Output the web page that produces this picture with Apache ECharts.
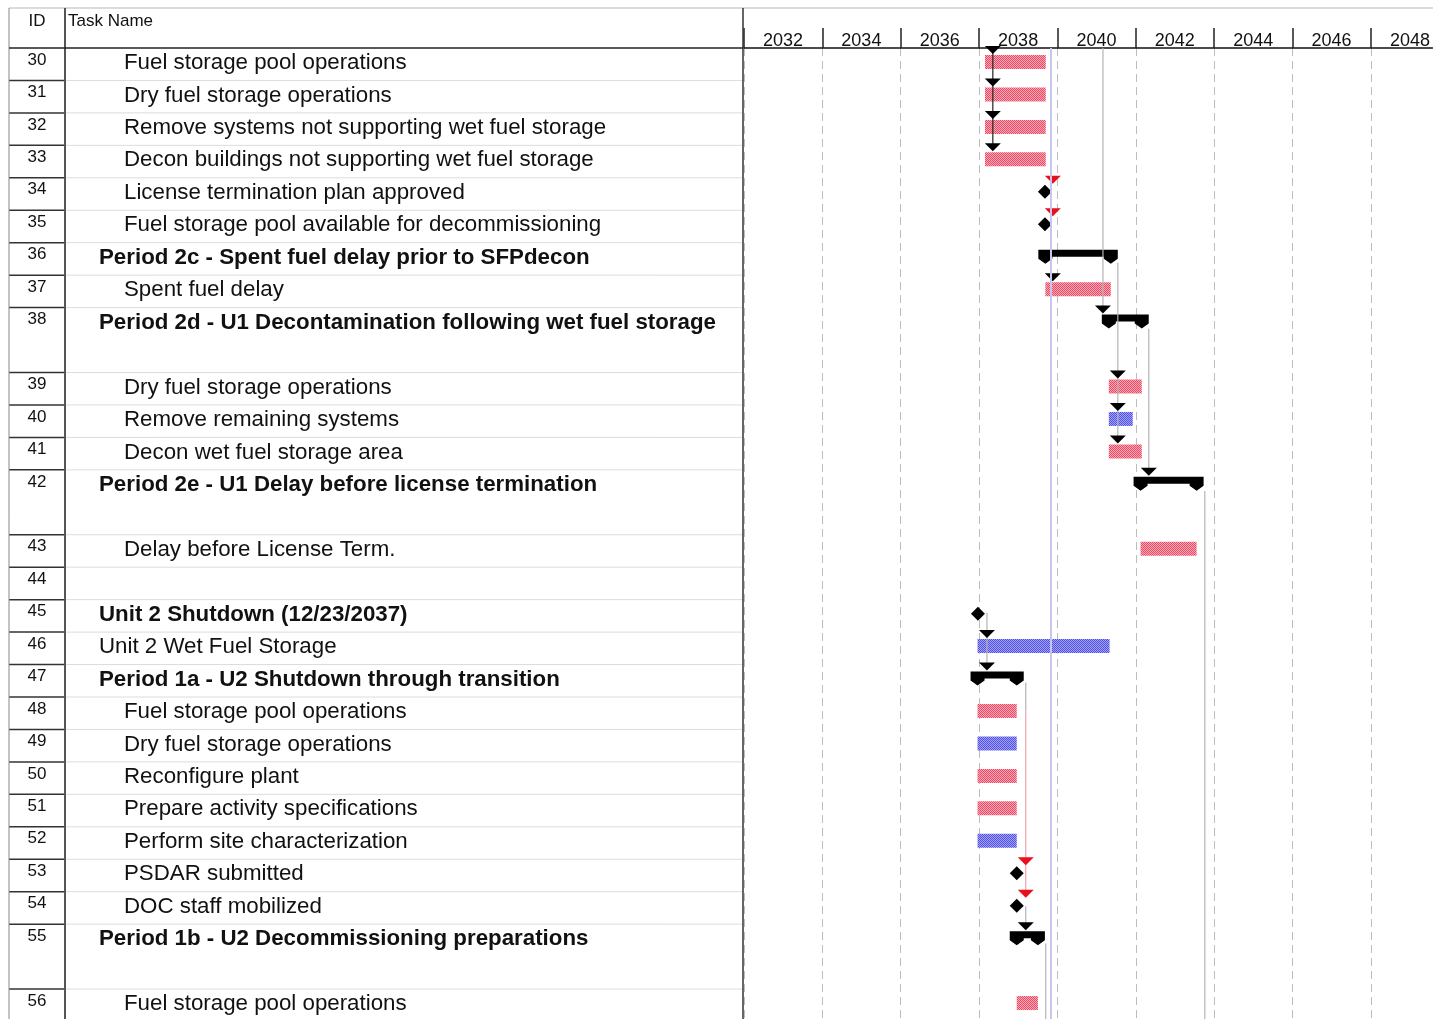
<!DOCTYPE html>
<html>
<head>
<meta charset="utf-8">
<title>Decommissioning schedule</title>
<script src="https://cdn.jsdelivr.net/npm/echarts@6/dist/echarts.min.js"></script>
<style>
  html, body { margin: 0; padding: 0; background: #fff; }
  #main { width: 1433px; height: 1019px; }
</style>
</head>
<body>
<div id="main"></div>
<script>
// task table, top to bottom
const taskIds = [30, 31, 32, 33, 34, 35, 36, 37, 38, 39, 40, 41, 42, 43, 44, 45, 46, 47, 48, 49, 50, 51, 52, 53, 54, 55, 56]
const taskNames = [
  'Fuel storage pool operations',
  'Dry fuel storage operations',
  'Remove systems not supporting wet fuel storage',
  'Decon buildings not supporting wet fuel storage',
  'License termination plan approved',
  'Fuel storage pool available for decommissioning',
  'Period 2c - Spent fuel delay prior to SFPdecon',
  'Spent fuel delay',
  'Period 2d - U1 Decontamination following wet fuel storage',
  'Dry fuel storage operations',
  'Remove remaining systems',
  'Decon wet fuel storage area',
  'Period 2e - U1 Delay before license termination',
  'Delay before License Term.',
  '',
  'Unit 2 Shutdown (12/23/2037)',
  'Unit 2 Wet Fuel Storage',
  'Period 1a - U2 Shutdown through transition',
  'Fuel storage pool operations',
  'Dry fuel storage operations',
  'Reconfigure plant',
  'Prepare activity specifications',
  'Perform site characterization',
  'PSDAR submitted',
  'DOC staff mobilized',
  'Period 1b - U2 Decommissioning preparations',
  'Fuel storage pool operations'
]
const outlineLevel = [2, 2, 2, 2, 2, 2, 1, 2, 1, 2, 2, 2, 1, 2, 0, 1, 1, 1, 2, 2, 2, 2, 2, 2, 2, 1, 2]
const isBold = [0, 0, 0, 0, 0, 0, 1, 0, 1, 0, 0, 0, 1, 0, 0, 1, 0, 1, 0, 0, 0, 0, 0, 0, 0, 1, 0]
const rowSpan = [1, 1, 1, 1, 1, 1, 1, 1, 2, 1, 1, 1, 2, 1, 1, 1, 1, 1, 1, 1, 1, 1, 1, 1, 1, 2, 1]

// gantt bars (years), kind: pink / blue task, summary, milestone
const barStart = [2038.15, 2038.15, 2038.15, 2038.15, 2039.68, 2039.68, 2039.69, 2039.69, 2041.31, 2041.31, 2041.31, 2041.31, 2042.12, 2042.12, null, 2037.97, 2037.96, 2037.96, 2037.96, 2037.96, 2037.96, 2037.96, 2037.96, 2038.96, 2038.96, 2038.96, 2038.96]
const barEnd = [2039.70, 2039.70, 2039.70, 2039.70, 2039.68, 2039.68, 2041.36, 2041.36, 2042.15, 2042.15, 2041.92, 2042.15, 2043.55, 2043.55, null, 2037.97, 2041.33, 2038.96, 2038.96, 2038.96, 2038.96, 2038.96, 2038.96, 2038.96, 2038.96, 2039.50, 2039.50]
const barKind = ['pink', 'pink', 'pink', 'pink', 'milestone', 'milestone', 'summary', 'pink', 'summary', 'pink', 'blue', 'pink', 'summary', 'pink', null, 'milestone', 'blue', 'summary', 'pink', 'blue', 'pink', 'pink', 'blue', 'milestone', 'milestone', 'summary', 'pink']

// link arrow heads: year, task id, critical
const arrowYear = [2038.35, 2038.35, 2038.35, 2038.35, 2039.88, 2039.88, 2039.88, 2041.16, 2041.54, 2041.54, 2041.54, 2042.33, 2038.20, 2038.20, 2039.19, 2039.19, 2039.19]
const arrowTask = [30, 31, 32, 33, 34, 35, 37, 38, 39, 40, 41, 42, 46, 47, 53, 54, 55]
const arrowCritical = [0, 0, 0, 0, 1, 1, 0, 0, 0, 0, 0, 0, 0, 0, 1, 1, 0]

// link lines: year, from / to in row units, style
const linkYear = [2038.35, 2041.16, 2041.54, 2042.33, 2043.76, 2038.20, 2039.19, 2039.19, 2039.19, 2039.70]
const linkFrom = [0, 0, 6.62, 8.65, 13.65, 17.4, 19.55, 20.45, 26.45, 27.6]
const linkTo = [3, 8, 12, 13, 30, 19, 20.45, 26, 27, 30]
const linkStyle = ['black', 'gray', 'gray', 'gray', 'gray', 'gray', 'gray', 'red', 'gray', 'gray']

const statusDate = 2039.83
const yearTicks = [2032, 2034, 2036, 2038, 2040, 2042, 2044, 2046, 2048]

const ROW_PX = 32.45
const TOP = 48
const HEIGHT = 971
const yMax = HEIGHT / ROW_PX
const FONT = '"Liberation Sans", Arial, sans-serif'

const rowPos = []
let acc = 0
rowSpan.forEach(s => { rowPos.push(acc); acc += s })
const rowOf = id => taskIds.indexOf(id)

function checker(a, b) {
  const c = document.createElement('canvas')
  c.width = 2; c.height = 2
  const g = c.getContext('2d')
  g.fillStyle = b; g.fillRect(0, 0, 2, 2)
  g.fillStyle = a; g.fillRect(0, 0, 1, 1); g.fillRect(1, 1, 1, 1)
  return { type: 'pattern', image: c, repeat: 'repeat' }
}
const fills = {
  pink: checker('#ec4a64', '#f9aab6'),
  blue: checker('#5050e6', '#a4a4f6')
}

function renderTableRow(params, api) {
  const i = params.dataIndex
  const top = api.coord([0, rowPos[i]])[1]
  const bottom = api.coord([0, rowPos[i] + rowSpan[i]])[1]
  const left = params.coordSys.x
  const children = [
    { type: 'line', shape: { x1: 65, y1: bottom, x2: 743, y2: bottom }, style: { stroke: '#dcdcdc', lineWidth: 1 } },
    { type: 'line', shape: { x1: left, y1: bottom, x2: 65, y2: bottom }, style: { stroke: '#333', lineWidth: 1.5 } },
    { type: 'text', style: { text: String(taskIds[i]), x: 37, y: top + 12, textAlign: 'center', textVerticalAlign: 'middle', font: '17px ' + FONT, fill: '#111' } }
  ]
  if (taskNames[i]) {
    const x = outlineLevel[i] === 2 ? 124 : 99
    children.push({ type: 'text', style: { text: taskNames[i], x: x, y: top + 15, textAlign: 'left', textVerticalAlign: 'middle', font: (isBold[i] ? 'bold ' : '') + '22.3px ' + FONT, fill: '#111' } })
  }
  return { type: 'group', children }
}

function renderBar(params, api) {
  const i = api.value(2)
  const kind = barKind[i]
  const top = api.coord([api.value(0), rowPos[i]])[1]
  const x0 = api.coord([api.value(0), rowPos[i]])[0]
  const x1 = api.coord([api.value(1), rowPos[i]])[0]
  if (kind === 'milestone') {
    const cy = top + 14
    return { type: 'polygon', shape: { points: [[x0, cy - 7], [x0 + 7, cy], [x0, cy + 7], [x0 - 7, cy]] }, style: { fill: '#000' } }
  }
  if (kind === 'summary') {
    const t = top + 7, c = 7
    return {
      type: 'polygon',
      shape: { points: [
        [x0 - c, t], [x1 + c, t], [x1 + c, t + 9], [x1, t + 14], [x1 - c, t + 9], [x1 - c, t + 7],
        [x0 + c, t + 7], [x0 + c, t + 9], [x0, t + 14], [x0 - c, t + 9]
      ] },
      style: { fill: '#000' }
    }
  }
  return { type: 'rect', shape: { x: x0, y: top + 7, width: x1 - x0, height: 14 }, style: { fill: fills[kind] } }
}

function renderArrow(params, api) {
  const p = api.coord([api.value(0), rowPos[api.value(1)]])
  const x = p[0], top = p[1]
  return {
    type: 'polygon',
    shape: { points: [[x - 8, top - 2], [x + 8, top - 2], [x, top + 6]] },
    style: { fill: api.value(2) ? '#e8101c' : '#000' }
  }
}

const linkColors = { black: '#222', gray: '#b4b4b4', red: '#f4a0a8' }
function renderLink(params, api) {
  const a = api.coord([api.value(0), api.value(1)])
  const b = api.coord([api.value(0), api.value(2)])
  return {
    type: 'line',
    shape: { x1: a[0], y1: a[1], x2: b[0], y2: b[1] },
    style: { stroke: linkColors[linkStyle[params.dataIndex]], lineWidth: 1.2 }
  }
}

const barData = []
barKind.forEach((k, i) => { if (k) barData.push([barStart[i], barEnd[i], i]) })

const chart = echarts.init(document.getElementById('main'))
chart.setOption({
  animation: false,
  grid: [
    { left: 9, top: TOP, width: 734, height: HEIGHT },
    { left: 744, top: TOP, width: 689, height: HEIGHT }
  ],
  xAxis: [
    { gridIndex: 0, type: 'value', min: 0, max: 1, show: false },
    {
      gridIndex: 1, type: 'value', position: 'top',
      min: yearTicks[0], max: 2049.57, interval: 2,
      axisLine: { show: true, lineStyle: { color: '#111', width: 1.5 } },
      axisTick: { show: true, length: 20, customValues: yearTicks, lineStyle: { color: '#222', width: 1.5 } },
      axisLabel: {
        customValues: yearTicks,
        formatter: v => String(v),
        padding: [0, 0, 0, 78], margin: -2,
        fontSize: 18, fontFamily: FONT, color: '#111'
      },
      splitLine: { show: true, lineStyle: { color: '#bdbdbd', width: 1, type: [8, 5] } }
    }
  ],
  yAxis: [
    { gridIndex: 0, type: 'value', min: 0, max: yMax, inverse: true, show: false },
    { gridIndex: 1, type: 'value', min: 0, max: yMax, inverse: true, show: false }
  ],
  series: [
    {
      type: 'custom', xAxisIndex: 0, yAxisIndex: 0,
      data: taskIds.map((id, i) => [0, rowPos[i]]),
      renderItem: renderTableRow
    },
    {
      type: 'custom', xAxisIndex: 1, yAxisIndex: 1, z: 2,
      data: barData,
      renderItem: renderBar
    },
    {
      type: 'custom', xAxisIndex: 1, yAxisIndex: 1, z: 3,
      data: linkYear.map((y, i) => [y, linkFrom[i], linkTo[i]]),
      renderItem: renderLink,
      markLine: {
        silent: true, symbol: 'none', label: { show: false },
        lineStyle: { color: '#c6c6ef', width: 2, type: 'solid' },
        data: [{ xAxis: statusDate }]
      }
    },
    {
      type: 'custom', xAxisIndex: 1, yAxisIndex: 1, z: 4,
      data: arrowYear.map((y, i) => [y, rowOf(arrowTask[i]), arrowCritical[i]]),
      renderItem: renderArrow
    }
  ],
  graphic: [
    { type: 'line', shape: { x1: 9, y1: 8, x2: 1433, y2: 8 }, style: { stroke: '#cfcfcf', lineWidth: 1.5 }, z: 10 },
    { type: 'line', shape: { x1: 9, y1: 8, x2: 9, y2: 1019 }, style: { stroke: '#888', lineWidth: 1 }, z: 10 },
    { type: 'line', shape: { x1: 65, y1: 8, x2: 65, y2: 1019 }, style: { stroke: '#555', lineWidth: 2 }, z: 10 },
    { type: 'line', shape: { x1: 743, y1: 8, x2: 743, y2: 1019 }, style: { stroke: '#333', lineWidth: 1.5 }, z: 10 },
    { type: 'line', shape: { x1: 9, y1: 48, x2: 743, y2: 48 }, style: { stroke: '#222', lineWidth: 1.5 }, z: 10 },
    { type: 'text', style: { text: 'ID', x: 37, y: 21, textAlign: 'center', textVerticalAlign: 'middle', font: '17px ' + FONT, fill: '#111' }, z: 10 },
    { type: 'text', style: { text: 'Task Name', x: 68, y: 21, textAlign: 'left', textVerticalAlign: 'middle', font: '17px ' + FONT, fill: '#111' }, z: 10 }
  ]
})

window.addEventListener('resize', () => chart && chart.resize())
</script>
</body>
</html>
